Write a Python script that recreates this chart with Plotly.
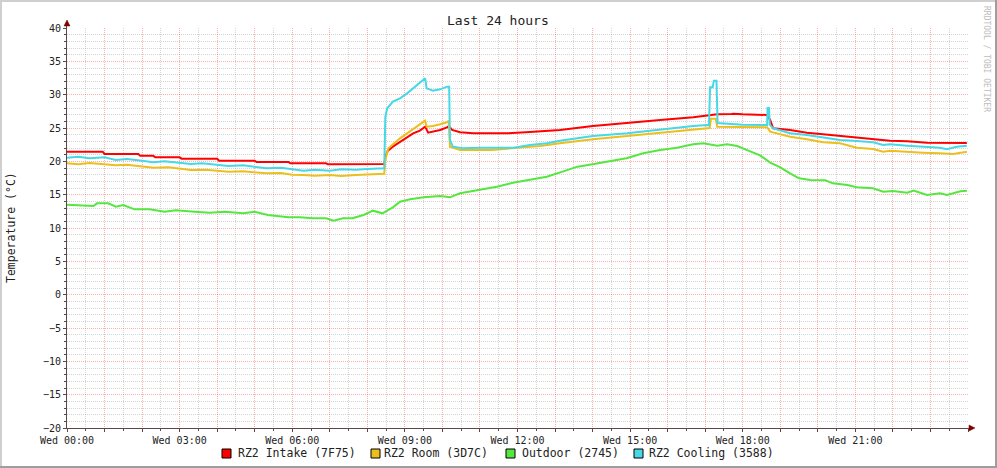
import plotly.graph_objects as go
from datetime import datetime, timedelta

# ---------------- data (hours since Wed 00:00, degrees C) ----------------
intake_h = [0, 0.95, 1.0, 1.9, 1.95, 2.3, 2.35, 3.0, 3.05, 4.0, 4.05, 5.0, 5.05, 5.9, 5.95, 6.9, 6.95,
            8.45, 8.5, 8.55, 8.68, 8.87, 9.06, 9.22, 9.40, 9.54, 9.62, 9.75, 9.94, 10.12, 10.17, 10.26,
            10.47, 10.82, 11.72, 12.33, 13.13, 14.01, 14.92, 15.80, 16.68, 17.05, 17.32, 17.7, 17.75,
            18.0, 18.65, 18.73, 18.81, 19.26, 19.71, 20.14, 20.59, 21.04, 21.47, 21.92, 22.38, 22.91, 23.97]
intake_v = [21.45, 21.45, 21.1, 21.1, 20.85, 20.85, 20.6, 20.6, 20.4, 20.4, 20.1, 20.1, 19.9, 19.9, 19.7, 19.7, 19.55,
            19.6, 21.0, 21.6, 22.2, 22.95, 23.7, 24.2, 24.6, 25.2, 24.3, 24.45, 24.7, 25.1, 25.3, 24.7,
            24.35, 24.2, 24.2, 24.4, 24.7, 25.3, 25.8, 26.2, 26.6, 26.8, 27.05, 27.1, 27.15,
            27.05, 26.95, 26.2, 24.95, 24.7, 24.3, 24.05, 23.8, 23.55, 23.35, 23.1, 23.0, 22.8, 22.75]

room_h = [0, 0.3, 0.6, 1.0, 1.3, 1.6, 2.0, 2.3, 2.7, 3.0, 3.3, 3.7, 4.0, 4.3, 4.7, 5.0, 5.3, 5.7, 6.0, 6.3,
          6.6, 7.0, 7.3, 7.7, 8.0, 8.45, 8.48, 8.56, 8.87, 9.06, 9.22, 9.40, 9.54, 9.58, 9.75, 9.94, 10.12,
          10.17, 10.2, 10.47, 11.3, 11.72, 12.6, 13.13, 14.01, 14.92, 15.80, 16.68, 17.05, 17.12, 17.15,
          17.28, 17.32, 18.0, 18.65, 18.73, 19.0, 19.26, 19.71, 20.14, 20.59, 21.04, 21.47, 21.74, 21.92,
          22.38, 22.8, 23.25, 23.6, 23.97]
room_v = [19.7, 19.55, 19.75, 19.6, 19.4, 19.5, 19.2, 19.05, 19.1, 18.85, 18.7, 18.75, 18.55, 18.45, 18.5,
          18.3, 18.2, 18.25, 18.0, 17.95, 17.85, 17.95, 17.8, 17.95, 18.0, 18.15, 20.2, 21.95, 23.45, 24.2,
          24.95, 25.6, 26.1, 25.2, 25.3, 25.55, 25.85, 26.1, 22.2, 21.7, 21.7, 21.9, 22.3, 22.7, 23.3, 23.8,
          24.3, 24.8, 25.0, 25.0, 26.4, 26.4, 25.2, 25.15, 25.1, 24.45, 24.1, 23.7, 23.3, 22.85, 22.7, 22.05,
          21.85, 21.45, 21.6, 21.5, 21.3, 21.2, 21.1, 21.45]

outdoor_h = [0, 0.6, 0.7, 0.8, 1.1, 1.3, 1.5, 1.8, 2.2, 2.6, 2.9, 3.4, 3.8, 4.2, 4.7, 5.0, 5.35, 5.9, 6.2,
             6.55, 6.9, 7.1, 7.35, 7.6, 7.9, 8.15, 8.4, 8.68, 8.87, 9.14, 9.5, 9.94, 10.2, 10.47, 11.0,
             11.45, 11.88, 12.33, 12.78, 13.2, 13.6, 14.0, 14.46, 14.9, 15.35, 15.8, 16.25, 16.68, 16.95,
             17.32, 17.58, 17.85, 18.2, 18.46, 18.73, 19.0, 19.26, 19.5, 19.8, 20.2, 20.4, 20.78, 21.04,
             21.47, 21.74, 22.0, 22.38, 22.55, 22.91, 23.25, 23.44, 23.8, 23.97]
outdoor_v = [13.5, 13.4, 13.3, 13.7, 13.7, 13.2, 13.45, 12.8, 12.8, 12.45, 12.65, 12.45, 12.3, 12.45, 12.2,
             12.45, 11.95, 11.6, 11.6, 11.45, 11.45, 11.1, 11.45, 11.45, 11.95, 12.6, 12.2, 13.1, 13.95,
             14.3, 14.6, 14.8, 14.6, 15.2, 15.7, 16.2, 16.8, 17.2, 17.7, 18.45, 19.2, 19.55, 20.05, 20.45,
             21.2, 21.7, 22.05, 22.55, 22.7, 22.35, 22.55, 22.3, 21.5, 20.9, 19.8, 19.1, 18.2, 17.45, 17.2,
             17.15, 16.7, 16.45, 16.1, 15.95, 15.45, 15.55, 15.3, 15.6, 14.95, 15.2, 14.95, 15.5, 15.6]

cooling_h = [0, 0.3, 0.6, 1.0, 1.3, 1.6, 2.0, 2.3, 2.6, 3.0, 3.3, 3.6, 4.0, 4.3, 4.7, 5.0, 5.3, 5.7, 6.0,
             6.3, 6.6, 7.0, 7.3, 7.7, 8.0, 8.45, 8.48, 8.53, 8.68, 8.87, 9.06, 9.22, 9.40, 9.54, 9.58, 9.75,
             9.94, 10.12, 10.18, 10.2, 10.28, 10.54, 11.0, 11.9, 12.33, 12.78, 13.13, 14.01, 14.92, 15.80,
             16.68, 17.05, 17.1, 17.13, 17.2, 17.23, 17.3, 17.33, 18.0, 18.65, 18.66, 18.7, 18.72, 18.81,
             19.26, 19.71, 20.14, 20.59, 21.04, 21.47, 21.74, 21.92, 22.38, 22.8, 23.25, 23.44, 23.7, 23.97]
cooling_v = [20.55, 20.7, 20.45, 20.6, 20.2, 20.35, 20.1, 19.85, 20.0, 19.75, 19.6, 19.7, 19.45, 19.3, 19.4,
             19.15, 18.95, 19.05, 18.8, 18.6, 18.75, 18.6, 18.8, 18.75, 18.85, 18.95, 26.7, 27.95, 28.95,
             29.45, 30.2, 30.95, 31.7, 32.45, 30.95, 30.6, 30.8, 31.2, 31.2, 23.2, 22.2, 21.95, 22.05, 22.05,
             22.45, 22.7, 23.1, 23.8, 24.2, 24.8, 25.3, 25.45, 25.4, 31.1, 31.1, 32.1, 32.1, 25.75, 25.5,
             25.45, 28.0, 28.0, 25.5, 24.95, 24.2, 23.95, 23.6, 23.2, 23.05, 22.85, 22.45, 22.55, 22.35, 22.2,
             22.05, 21.8, 22.2, 22.35]

series_names = ["RZ2 Intake (7F75)", "RZ2 Room (3D7C)", "Outdoor (2745)", "RZ2 Cooling (3588)"]
series_colors = ["#FF0000", "#EBC01E", "#55E63F", "#46D8E6"]
tick_hours = list(range(0, 25))
tick_labels = [("Wed %02d:00" % h) if (h % 3 == 0 and h < 24) else "" for h in tick_hours]
minor_hours = [h + 0.5 for h in range(0, 24)]
y_minor = [v for v in range(-20, 41) if v % 5 != 0]

# ---------------- figure ----------------
base = datetime(2024, 1, 3)  # a Wednesday


def to_dt(hs):
    return [base + timedelta(hours=h) for h in hs]


W, H = 997, 468
L, R, T, B = 67, 968, 28, 428


def px(x):
    return (x - L) / (R - L)


def py(y):
    return (B - y) / (B - T)


FONT = "DejaVu Sans Mono"
AXIS_COL = "#5a4848"
TXT_COL = "#222222"
MAJ_GRID = "rgba(255,0,0,0.32)"
MIN_GRID = "rgba(128,128,128,0.33)"

fig = go.Figure()
all_series = [(intake_h, intake_v), (room_h, room_v), (outdoor_h, outdoor_v), (cooling_h, cooling_v)]
for (hs, vs), name, col in zip(all_series, series_names, series_colors):
    fig.add_trace(go.Scatter(x=to_dt(hs), y=vs, mode="lines", name=name,
                             line=dict(color=col, width=2), showlegend=False, hoverinfo="skip"))

fig.update_layout(
    width=W, height=H,
    margin=dict(l=L, r=W - R, t=T, b=H - B, pad=0, autoexpand=False),
    paper_bgcolor="white", plot_bgcolor="white",
    font=dict(family=FONT, size=10, color=TXT_COL),
    showlegend=False,
    xaxis=dict(
        type="date",
        range=[base, base + timedelta(hours=24)],
        tickmode="array",
        tickvals=to_dt(tick_hours),
        ticktext=tick_labels,
        showgrid=True, gridcolor=MAJ_GRID, griddash="1px,1px", gridwidth=1,
        ticks="outside", ticklen=3, tickcolor=AXIS_COL, tickwidth=1,
        showline=True, linecolor=AXIS_COL, linewidth=1,
        zeroline=False,
        tickfont=dict(family=FONT, size=10, color=TXT_COL),
        minor=dict(tickmode="array", tickvals=to_dt(minor_hours), showgrid=True, gridcolor=MIN_GRID,
                   griddash="1px,1px", gridwidth=1, ticks="outside", ticklen=2, tickcolor=AXIS_COL),
        fixedrange=True,
    ),
    yaxis=dict(
        range=[-20, 40],
        tickmode="linear", tick0=0, dtick=5,
        showgrid=True, gridcolor=MAJ_GRID, griddash="1px,1px", gridwidth=1,
        ticks="outside", ticklen=3, tickcolor=AXIS_COL, tickwidth=1,
        showline=True, linecolor=AXIS_COL, linewidth=1,
        zeroline=False,
        tickfont=dict(family=FONT, size=10, color=TXT_COL),
        ticklabelstandoff=0,
        minor=dict(tickmode="array", tickvals=y_minor, showgrid=True, gridcolor=MIN_GRID,
                   griddash="1px,1px", gridwidth=1, ticks="outside", ticklen=2, tickcolor=AXIS_COL),
        fixedrange=True,
    ),
)

shapes = []
# frame border (3D style)
shapes.append(dict(type="rect", xref="paper", yref="paper", x0=px(0), x1=px(W), y0=py(0), y1=py(2),
                   fillcolor="#cfcfcf", line=dict(width=0)))
shapes.append(dict(type="rect", xref="paper", yref="paper", x0=px(0), x1=px(2), y0=py(0), y1=py(H),
                   fillcolor="#cfcfcf", line=dict(width=0)))
shapes.append(dict(type="rect", xref="paper", yref="paper", x0=px(0), x1=px(W), y0=py(H - 2), y1=py(H),
                   fillcolor="#9e9e9e", line=dict(width=0)))
shapes.append(dict(type="rect", xref="paper", yref="paper", x0=px(W - 2), x1=px(W), y0=py(0), y1=py(H),
                   fillcolor="#9e9e9e", line=dict(width=0)))
# axis extensions + arrows
shapes.append(dict(type="line", xref="paper", yref="paper", x0=px(L - 0.5), x1=px(L - 0.5), y0=py(B), y1=py(24),
                   line=dict(color=AXIS_COL, width=1)))
shapes.append(dict(type="line", xref="paper", yref="paper", x0=px(R), x1=px(971), y0=py(B + 0.5), y1=py(B + 0.5),
                   line=dict(color=AXIS_COL, width=1)))
shapes.append(dict(type="path", xref="paper", yref="paper",
                   path="M %f,%f L %f,%f L %f,%f Z" % (px(64), py(26), px(70), py(26), px(67), py(20)),
                   fillcolor="#7f0000", line=dict(color="#7f0000", width=0.5)))
shapes.append(dict(type="path", xref="paper", yref="paper",
                   path="M %f,%f L %f,%f L %f,%f Z" % (px(969), py(425), px(969), py(431), px(975), py(428)),
                   fillcolor="#7f0000", line=dict(color="#7f0000", width=0.5)))

annotations = []
annotations.append(dict(text="Last 24 hours", x=px(498), y=py(20.5), xref="paper", yref="paper",
                        showarrow=False, xanchor="center", yanchor="middle",
                        font=dict(family=FONT, size=13, color=TXT_COL)))
annotations.append(dict(text="RRDTOOL / TOBI OETIKER", x=px(987), y=py(59), xref="paper", yref="paper",
                        showarrow=False, xanchor="center", yanchor="middle", textangle=90,
                        font=dict(family=FONT, size=8, color="#bdbdbd")))
annotations.append(dict(text="Temperature (°C)", x=px(11), y=py(228), xref="paper", yref="paper",
                        showarrow=False, xanchor="center", yanchor="middle", textangle=-90,
                        font=dict(family=FONT, size=11.5, color=TXT_COL)))

legend_sq_x = [222, 371, 506, 634]
legend_txt_x = [236, 382, 520, 647]
for name, col, sx, tx in zip(series_names, series_colors, legend_sq_x, legend_txt_x):
    shapes.append(dict(type="rect", xref="paper", yref="paper", x0=px(sx), x1=px(sx + 9), y0=py(449), y1=py(458),
                       fillcolor=col, line=dict(color="#000000", width=1)))
    annotations.append(dict(text=name, x=px(tx), y=py(453), xref="paper", yref="paper",
                            showarrow=False, xanchor="left", yanchor="middle",
                            font=dict(family=FONT, size=11.5, color=TXT_COL)))

fig.update_layout(shapes=shapes, annotations=annotations)
fig.write_html("out.html", config={"displayModeBar": False},
               post_script="document.body.style.margin='0';document.body.style.padding='0';")
